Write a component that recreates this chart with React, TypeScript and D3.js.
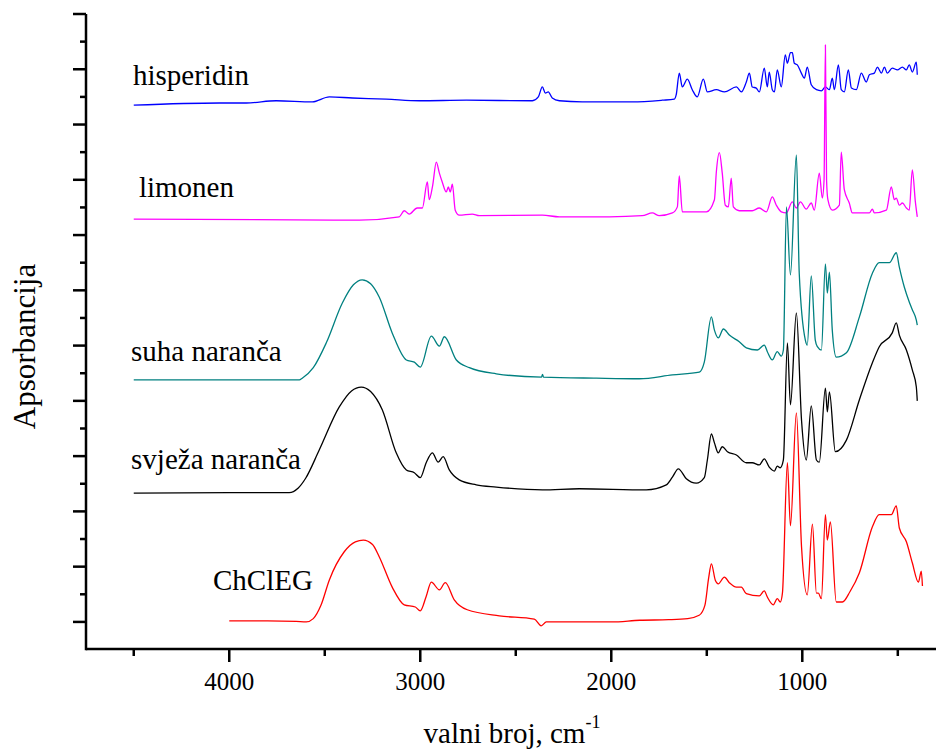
import React from "react";
import * as d3 from "d3";

type Pt = [number, number];

// FTIR spectra: [wavenumber (cm^-1), absorbance (a.u., stacked)]
const hisperidin: Pt[] = [
  [4500, 9.35], [4052, 9.39], [3911, 9.39], [3754, 9.43], [3565, 9.41], [3476, 9.5], [3356, 9.48],
  [3178, 9.46], [3005, 9.43], [2759, 9.44], [2413, 9.43], [2382, 9.5], [2361, 9.68], [2345, 9.57],
  [2330, 9.59], [2309, 9.48], [2272, 9.43], [2152, 9.41], [1890, 9.41], [1733, 9.44], [1670, 9.46],
  [1660, 9.54], [1644, 9.93], [1628, 9.68], [1602, 9.82], [1576, 9.63], [1550, 9.5], [1518, 9.82],
  [1497, 9.59], [1450, 9.63], [1408, 9.59], [1345, 9.68], [1319, 9.59], [1293, 9.77], [1277, 9.93],
  [1262, 9.68], [1241, 9.66], [1225, 9.59], [1199, 10.02], [1183, 9.68], [1173, 9.95], [1157, 9.63],
  [1146, 9.59], [1131, 9.99], [1110, 9.68], [1089, 10.26], [1078, 10.11], [1062, 10.3], [1052, 10.3],
  [1042, 10.11], [1026, 10.08], [1005, 9.93], [989, 9.84], [974, 10.04], [953, 9.72], [926, 9.63],
  [900, 9.61], [879, 9.68], [858, 9.63], [843, 9.84], [832, 9.63], [811, 10.08], [796, 9.63],
  [780, 9.59], [759, 9.99], [743, 9.66], [717, 9.63], [691, 9.93], [665, 9.77], [649, 9.9],
  [623, 9.93], [607, 10.04], [586, 9.93], [570, 10.04], [555, 9.93], [529, 10.02], [502, 9.99],
  [476, 10.04], [455, 9.99], [440, 10.08], [424, 9.95], [403, 10.13], [398, 9.9],
];

const limonen: Pt[] = [
  [4500, 7.29], [3319, 7.27], [3110, 7.33], [3084, 7.44], [3058, 7.38], [3016, 7.49], [2989, 7.49],
  [2963, 7.96], [2953, 7.64], [2935, 7.9], [2916, 8.32], [2900, 8.12], [2885, 7.96], [2864, 7.78],
  [2853, 7.87], [2843, 7.78], [2832, 7.92], [2817, 7.45], [2796, 7.36], [2728, 7.38], [2691, 7.35],
  [2361, 7.36], [2272, 7.33], [2010, 7.33], [1838, 7.35], [1785, 7.4], [1749, 7.35], [1680, 7.4],
  [1654, 7.51], [1644, 8.07], [1628, 7.42], [1502, 7.42], [1460, 7.64], [1450, 8.14], [1434, 8.49],
  [1419, 8.12], [1403, 7.54], [1387, 7.51], [1372, 8.03], [1361, 7.51], [1330, 7.44], [1262, 7.44],
  [1225, 7.49], [1188, 7.42], [1157, 7.69], [1136, 7.54], [1110, 7.42], [1084, 7.4], [1052, 7.6],
  [1031, 7.49], [1010, 7.6], [979, 7.47], [953, 7.58], [937, 7.45], [911, 8.12], [895, 7.67],
  [886, 8.0], [879, 10.44], [873, 8.0], [866, 7.64], [843, 7.45], [806, 7.54], [796, 8.5],
  [780, 7.82], [754, 7.58], [738, 7.4], [649, 7.4], [633, 7.47], [623, 7.4], [560, 7.45],
  [534, 7.87], [518, 7.64], [508, 7.67], [492, 7.54], [476, 7.58], [455, 7.49], [440, 7.45],
  [424, 8.18], [408, 7.6], [398, 7.33],
];

const suhaNaranca: Pt[] = [
  [4500, 4.38], [3633, 4.38], [3618, 4.41], [3560, 4.6], [3492, 5.05], [3408, 5.77], [3350, 6.1],
  [3304, 6.19], [3260, 6.12], [3215, 5.88], [3147, 5.23], [3073, 4.74], [3031, 4.7], [3000, 4.61],
  [2942, 5.17], [2900, 4.99], [2874, 5.16], [2811, 4.74], [2743, 4.6], [2602, 4.49], [2365, 4.43],
  [2360, 4.48], [2355, 4.43], [2078, 4.41], [1853, 4.4], [1680, 4.47], [1539, 4.52], [1513, 4.7],
  [1476, 5.52], [1460, 5.28], [1440, 5.14], [1413, 5.3], [1382, 5.19], [1330, 5.07], [1293, 4.96],
  [1235, 4.92], [1199, 5.01], [1183, 4.89], [1157, 4.74], [1131, 4.89], [1110, 4.81], [1099, 4.92],
  [1083, 7.51], [1062, 6.28], [1031, 8.45], [1016, 6.31], [984, 5.1], [974, 5.01], [953, 6.26],
  [932, 5.1], [921, 4.98], [900, 4.92], [879, 6.48], [869, 5.95], [858, 6.33], [843, 5.28],
  [822, 4.79], [769, 4.87], [701, 5.52], [633, 6.31], [597, 6.5], [544, 6.5], [508, 6.68],
  [492, 6.42], [466, 6.06], [440, 5.79], [424, 5.65], [403, 5.46], [398, 5.37],
];

const svjezaNaranca: Pt[] = [
  [4500, 2.33], [4000, 2.34], [3686, 2.34], [3640, 2.42], [3600, 2.6], [3529, 3.11], [3424, 3.89],
  [3360, 4.18], [3309, 4.25], [3260, 4.17], [3199, 3.84], [3126, 3.06], [3073, 2.75], [3031, 2.7],
  [3000, 2.61], [2969, 2.88], [2937, 3.06], [2906, 2.89], [2880, 2.99], [2848, 2.75], [2796, 2.57],
  [2707, 2.48], [2602, 2.44], [2361, 2.39], [2167, 2.41], [1817, 2.39], [1712, 2.48], [1680, 2.62],
  [1649, 2.77], [1607, 2.59], [1555, 2.51], [1513, 2.61], [1497, 2.93], [1476, 3.4], [1460, 3.24],
  [1440, 3.06], [1419, 3.17], [1392, 3.08], [1345, 3.02], [1293, 2.88], [1262, 2.88], [1225, 2.84],
  [1199, 2.95], [1173, 2.8], [1146, 2.73], [1131, 2.82], [1115, 2.79], [1099, 2.93], [1078, 5.05],
  [1062, 3.93], [1031, 5.59], [1004, 3.65], [979, 2.93], [953, 3.91], [926, 2.93], [911, 2.89],
  [879, 4.23], [869, 3.8], [858, 4.16], [827, 3.08], [769, 3.29], [701, 4.02], [633, 4.69],
  [597, 4.98], [529, 5.23], [508, 5.41], [492, 5.19], [455, 4.92], [424, 4.56], [403, 4.25],
  [398, 4.0],
];

const chcleg: Pt[] = [
  [4000, 0.02], [3800, 0.02], [3650, 0.01], [3597, 0.0], [3560, 0.06], [3520, 0.3], [3476, 0.76],
  [3398, 1.27], [3340, 1.45], [3298, 1.48], [3250, 1.4], [3215, 1.18], [3147, 0.63], [3084, 0.31],
  [3026, 0.27], [3000, 0.2], [2970, 0.45], [2942, 0.72], [2900, 0.58], [2869, 0.71], [2822, 0.4],
  [2754, 0.22], [2586, 0.11], [2403, 0.05], [2367, -0.07], [2340, 0.0], [2200, 0.0], [2000, 0.0],
  [1850, 0.03], [1700, 0.04], [1600, 0.06], [1540, 0.12], [1510, 0.3], [1490, 0.8], [1476, 1.05],
  [1455, 0.75], [1440, 0.69], [1408, 0.81], [1382, 0.71], [1345, 0.63], [1319, 0.63], [1293, 0.51],
  [1225, 0.47], [1199, 0.56], [1183, 0.45], [1152, 0.31], [1131, 0.42], [1115, 0.36], [1104, 0.52],
  [1078, 2.88], [1062, 1.74], [1031, 3.78], [1004, 1.36], [974, 0.49], [947, 1.77], [926, 0.52],
  [916, 0.52], [900, 0.42], [879, 1.94], [869, 1.48], [853, 1.81], [822, 0.36], [790, 0.36],
  [750, 0.55], [701, 0.89], [633, 1.72], [597, 1.94], [534, 1.94], [508, 2.1], [492, 1.7],
  [455, 1.45], [424, 1.07], [392, 0.72], [377, 0.92], [371, 0.65],
];

const seriesNames = ["hisperidin", "limonen", "suha naranča", "svježa naranča", "ChClEG"];
const seriesColors = ["#0000ff", "#ff00ff", "#008080", "#000000", "#ff0000"];
const seriesData = [hisperidin, limonen, suhaNaranca, svjezaNaranca, chcleg];
// label anchor (wavenumber, absorbance) for each series name
const labelAnchors: Pt[] = [
  [4504, 9.71], [4473, 7.69], [4514, 4.72], [4514, 2.77], [4085, 0.58],
];

const xMajorTicks = [4000, 3000, 2000, 1000];
const xMinorTicks = [4500, 3500, 2500, 1500, 500];
const yMajorTicks = d3.range(0, 12, 1);
const yMinorTicks = d3.range(0.5, 11, 1);

const W = 940;
const H = 751;
const FONT = '"Liberation Serif", "Times New Roman", Times, "DejaVu Serif", serif';

export default function App() {
  const x = d3.scaleLinear().domain([4750, 300]).range([86, 936]);
  const y = d3.scaleLinear().domain([-0.49, 11]).range([649, 14]);
  const line = d3
    .line<Pt>()
    .x((d) => x(d[0]))
    .y((d) => y(d[1]))
    .curve(d3.curveMonotoneX);

  const x0 = x.range()[0];
  const x1 = x.range()[1];
  const y0 = y.range()[0];
  const y1 = y.range()[1];
  const txt = { fontFamily: FONT };

  return (
    <svg
      width={W}
      height={H}
      style={{ position: "absolute", left: 0, top: 0, background: "#fff" }}
    >
      <rect x={0} y={0} width={W} height={H} fill="#fff" />
      {seriesData.map((d, i) => (
        <path
          key={seriesNames[i]}
          d={line(d) || ""}
          fill="none"
          stroke={seriesColors[i]}
          strokeWidth={1.3}
          strokeLinejoin="round"
        />
      ))}
      {seriesNames.map((n, i) => (
        <text
          key={n}
          x={x(labelAnchors[i][0])}
          y={y(labelAnchors[i][1])}
          fontSize={29}
          fill="#000"
          style={txt}
        >
          {n}
        </text>
      ))}
      {/* axes */}
      <g stroke="#000" strokeWidth={2.5} fill="none">
        <line x1={x0} y1={y0} x2={x1} y2={y0} />
        <line x1={x0} y1={y0 + 1.2} x2={x0} y2={y1} />
        {xMajorTicks.map((t) => (
          <line key={"xM" + t} x1={x(t)} x2={x(t)} y1={y0} y2={y0 + 13} />
        ))}
        {xMinorTicks.map((t) => (
          <line key={"xm" + t} x1={x(t)} x2={x(t)} y1={y0} y2={y0 + 7} />
        ))}
        {yMajorTicks.map((t) => (
          <line key={"yM" + t} x1={x0} x2={x0 - 13} y1={y(t)} y2={y(t)} />
        ))}
        {yMinorTicks.map((t) => (
          <line key={"ym" + t} x1={x0} x2={x0 - 6} y1={y(t)} y2={y(t)} />
        ))}
      </g>
      {xMajorTicks.map((t) => (
        <text key={"xl" + t} x={x(t)} y={y0 + 41} fontSize={25} textAnchor="middle" fill="#000" style={txt}>
          {t}
        </text>
      ))}
      <text x={512} y={743} fontSize={29} textAnchor="middle" fill="#000" style={txt}>
        valni broj, cm
        <tspan dy={-15} fontSize={18}>-1</tspan>
      </text>
      <text
        transform={`translate(35, ${(y0 + y1) / 2 + 15}) rotate(-90)`}
        fontSize={31}
        textAnchor="middle"
        fill="#000"
        style={txt}
      >
        Apsorbancija
      </text>
    </svg>
  );
}
